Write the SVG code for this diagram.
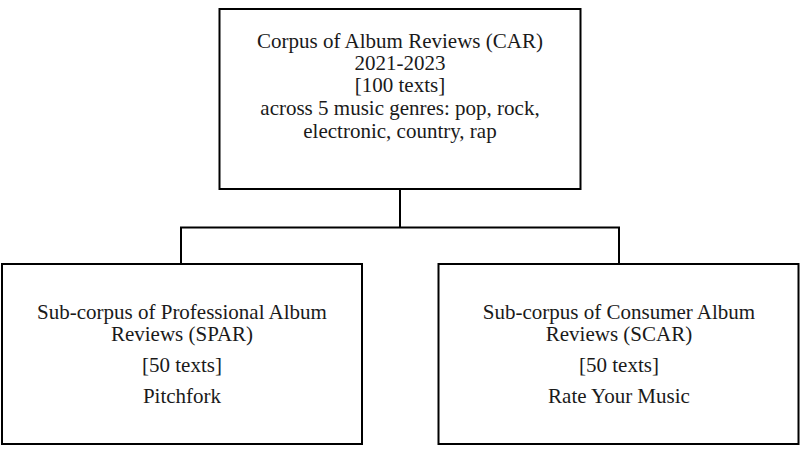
<svg xmlns="http://www.w3.org/2000/svg" width="800" height="453" viewBox="0 0 800 453">
<style>
.box{fill:#fff;stroke:#000;stroke-width:2}
.conn{fill:none;stroke:#000;stroke-width:2}
.t{font-size:21px;fill:#1a1a1a;text-anchor:middle}
</style>
<rect width="800" height="453" fill="#fff"/>
<g id="connectors">
<path class="conn" d="M400,189 V227.5 M181,227.5 H619 M181,226.5 V264 M619,226.5 V264"/>
</g>
<g id="car" class="t" font-family="Liberation Serif, Tinos, Times New Roman, DejaVu Serif, serif">
<rect class="box" x="219.5" y="9" width="361" height="180"/>
<text x="400" y="48">Corpus of Album Reviews (CAR)</text>
<text x="400" y="70">2021-2023</text>
<text x="400" y="92">[100 texts]</text>
<text x="400" y="115">across 5 music genres: pop, rock,</text>
<text x="400" y="138">electronic, country, rap</text>
</g>
<g id="spar" class="t" font-family="Liberation Serif, Tinos, Times New Roman, DejaVu Serif, serif">
<rect class="box" x="2" y="264" width="360" height="180"/>
<text x="182" y="318.5">Sub-corpus of Professional Album</text>
<text x="182" y="340.5">Reviews (SPAR)</text>
<text x="182" y="372">[50 texts]</text>
<text x="182" y="403">Pitchfork</text>
</g>
<g id="scar" class="t" font-family="Liberation Serif, Tinos, Times New Roman, DejaVu Serif, serif">
<rect class="box" x="438.5" y="264" width="360" height="180"/>
<text x="619" y="318.5">Sub-corpus of Consumer Album</text>
<text x="619" y="340.5">Reviews (SCAR)</text>
<text x="619" y="372">[50 texts]</text>
<text x="619" y="403">Rate Your Music</text>
</g>
</svg>
